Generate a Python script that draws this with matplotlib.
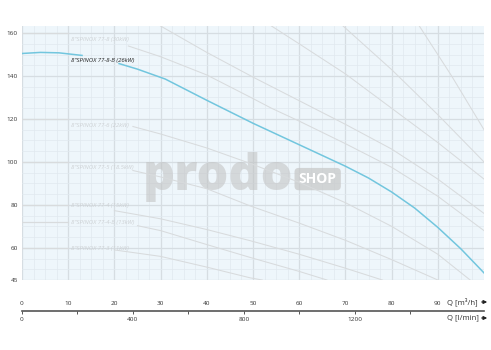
import numpy as np
import matplotlib.pyplot as plt
from matplotlib.ticker import MultipleLocator

# flow axis (m3/h) and head (m)
# highlighted pump: 8"SPINOX 77-8-B (26kW)
blue_q_lead = [0, 4, 8, 13]
blue_h_lead = [150.5, 151, 150.8, 149.6]
blue_q = [21, 25, 31, 40, 50, 60, 70, 75, 80, 85, 90, 95, 100]
blue_h = [145.8, 143.2, 138.6, 128.7, 118, 108, 98, 92.5, 86, 78.5, 69.5, 59.5, 48.3]

# grey pump curves: label, leader head, label head, curve Q, curve H
labels = ['8"SPINOX 77-8 (30kW)', '8"SPINOX 77-6 (22kW)', '8"SPINOX 77-5 (18.5kW)',
          '8"SPINOX 77-4 (15kW)', '8"SPINOX 77-4-B (13kW)', '8"SPINOX 77-3 (11kW)']
leader_h = [160, 120, 100, 80, 72, 60]
label_h = [157.2, 117, 97.5, 79.6, 71.8, 59.7]
curve_q = [
    [23, 30, 40, 50, 54, 60, 70, 80, 90, 100],
    [24, 30, 40, 49.4, 60, 70, 80, 90, 97],
    [24, 30, 40, 49.4, 60, 70, 80, 90],
    [20, 30, 40, 49.4, 60, 70, 78],
    [25, 30, 40, 49.4, 60, 66],
    [20, 30, 40, 49.4, 52],
]
curve_h = [
    [154, 149, 140.5, 129.5, 125, 119, 108.5, 97.5, 84, 68],
    [116.5, 113, 106.5, 99.3, 90.5, 81, 70, 57, 45],
    [96, 93, 87.5, 79.5, 71.5, 63.5, 54.5, 45],
    [77.3, 73.5, 68.5, 63.3, 57, 50.5, 45],
    [70.3, 68, 61.5, 55.5, 49, 45],
    [59, 56, 51, 46, 45],
]

# bigger pumps entering from above the top of the chart
top_q = [
    [30, 40, 50, 60, 70, 80, 90, 100],
    [54, 60, 70, 80, 90, 100],
    [69.5, 80, 90, 100],
    [86, 93, 100],
]
top_h = [
    [163.3, 151, 139.5, 128.5, 117.5, 106, 92, 76],
    [163.3, 155, 141, 125, 109, 92],
    [163.3, 143, 122, 100],
    [163.3, 140, 115],
]

q_ticks = [0, 10, 20, 30, 40, 50, 60, 70, 80, 90]
h_ticks = [45, 60, 80, 100, 120, 140, 160]
lmin_ticks = [0, 200, 400, 600, 800, 1000, 1200, 1400]
lmin_labels = ['0', '', '400', '', '800', '', '1200', '']

W, H = 491, 350
fig = plt.figure(figsize=(W / 100, H / 100), dpi=100)
plt.rcParams['font.family'] = ['Open Sans', 'DejaVu Sans']

ax = fig.add_axes([22 / W, 1 - 280 / H, 462 / W, 254 / H])
ax.set_facecolor('#eef6fb')
ax.set_xlim(0, 100)
ax.set_ylim(45, 163.3)
for s in ax.spines.values():
    s.set_visible(False)

ax.xaxis.set_minor_locator(MultipleLocator(2.5))
ax.yaxis.set_minor_locator(MultipleLocator(5))
ax.set_xticks(q_ticks)
ax.set_yticks(h_ticks)
ax.grid(which='major', color='#d6dde2', linewidth=0.9)
ax.grid(which='minor', color='#e0e9ef', linewidth=0.5)
ax.set_axisbelow(True)
ax.tick_params(which='both', length=0, labelsize=4.6, labelcolor='#333333')
ax.tick_params(axis='x', pad=15)
ax.tick_params(axis='y', pad=3)

grey = '#d8dbdd'
for q, h in zip(top_q, top_h):
    ax.plot(q, h, color=grey, lw=0.75)

for lab, lh, th, q, h in zip(labels, leader_h, label_h, curve_q, curve_h):
    ax.plot([0, 10], [lh, lh], color=grey, lw=0.9)
    ax.plot(q, h, color=grey, lw=0.75)
    ax.text(10.6, th, lab, fontsize=4.3, style='italic', color='#cdd1d4',
            va='center', ha='left')

# watermark
ax.text(42.5, 93, 'prodo', fontsize=36, fontweight='heavy', color='#c0c0c0',
        alpha=0.55, ha='center', va='center', zorder=1)
ax.text(64, 92, 'SHOP', fontsize=10, fontweight='bold', color='white',
        ha='center', va='center', zorder=1,
        bbox=dict(boxstyle='round,pad=0.3', fc='#c6c6c6', ec='none', alpha=0.7))

blue = '#72c6de'
ax.plot(blue_q_lead, blue_h_lead, color=blue, lw=1.1, zorder=3)
ax.plot(blue_q, blue_h, color=blue, lw=1.1, zorder=3)
ax.text(10.6, 147.4, '8"SPINOX 77-8-B (26kW)', fontsize=4.3, style='italic',
        color='#222222', va='center', ha='left', zorder=4)

# l/min scale below the chart
ax2 = fig.add_axes([22 / W, 1 - 311 / H, 462 / W, 0.0001])
ax2.set_xlim(0, 100 * 1000 / 60)
for k in ['top', 'left', 'right']:
    ax2.spines[k].set_visible(False)
ax2.spines['bottom'].set_color('#555555')
ax2.spines['bottom'].set_linewidth(1.2)
ax2.set_yticks([])
ax2.set_xticks(lmin_ticks)
ax2.set_xticklabels(lmin_labels)
ax2.tick_params(axis='x', direction='out', length=2.5, width=0.7, color='#555555',
                labelsize=4.6, labelcolor='#333333', pad=1.5)

fig.text(447 / W, 1 - 302 / H, 'Q [m³/h]', fontsize=5.6, color='#333333', va='center')
fig.text(447 / W, 1 - 318 / H, 'Q [l/min]', fontsize=5.6, color='#333333', va='center')
for y in [302, 318]:
    ax.annotate('', xy=(490, H - y), xytext=(479, H - y), xycoords='figure pixels',
                textcoords='figure pixels',
                arrowprops=dict(arrowstyle='-|>', color='#222222', lw=0.9,
                                mutation_scale=5))

fig.savefig('out.png', dpi=100)
